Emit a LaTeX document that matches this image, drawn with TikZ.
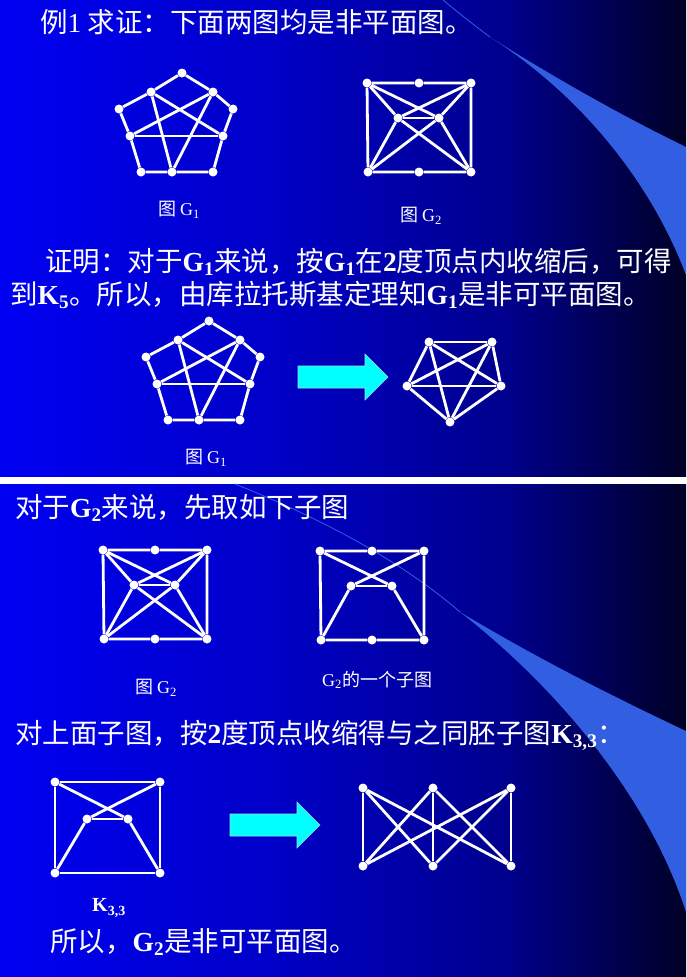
\documentclass[tikz,border=0pt]{standalone}
\usepackage{fontspec}
\setmainfont{Liberation Serif}
\newfontfamily\cjk{Noto Sans CJK SC}
\usetikzlibrary{positioning}

\pgfdeclarehorizontalshading{slidebg}{100bp}{rgb(0bp)=(0,0,0.95); rgb(25bp)=(0,0,0.95); rgb(45bp)=(0,0,0.78); rgb(62bp)=(0,0,0.55); rgb(75bp)=(0,0,0.15); rgb(100bp)=(0,0,0.15)}
\definecolor{swoosh}{RGB}{50,95,225}
\definecolor{arrowcyan}{RGB}{0,255,255}

\newcommand\lat[1]{{\rmfamily\bfseries #1}}
\newcommand\lowidx[1]{\textsubscript{#1}}

% G1: pentagon with subdivided sides
\newcommand\graphGone[1]{%
  \node[vx] (#1t)  at (182,73)  {};
  \node[vx] (#1ul) at (151,92)  {};
  \node[vx] (#1ur) at (213,92)  {};
  \node[vx] (#1lo) at (119,109) {};
  \node[vx] (#1ro) at (233,109) {};
  \node[vx] (#1ml) at (130,136) {};
  \node[vx] (#1mr) at (223,136) {};
  \node[vx] (#1bl) at (141,172) {};
  \node[vx] (#1bm) at (172,172) {};
  \node[vx] (#1br) at (213,172) {};
  \draw[gline] (#1ul) -- (#1t) -- (#1ur) -- (#1ro) -- (#1mr) -- (#1br)
    -- (#1bm) -- (#1bl) -- (#1ml) -- (#1lo) -- (#1ul);
  \draw[gline] (#1ml) -- (#1mr);
  \draw[gline] (#1ul) -- (#1bm) -- (#1ur);
  \draw[gline] (#1ul) -- (#1mr);
  \draw[gline] (#1ur) -- (#1ml);
}

% square with two inner vertices (#2 = extra edges)
\newcommand\graphSquare[2]{%
  \node[vx] (#1tl) at (367,83)  {};
  \node[vx] (#1tm) at (419,83)  {};
  \node[vx] (#1tr) at (471,83)  {};
  \node[vx] (#1il) at (398,118) {};
  \node[vx] (#1ir) at (439,118) {};
  \node[vx] (#1bl) at (368,172) {};
  \node[vx] (#1bm) at (419,172) {};
  \node[vx] (#1br) at (471,172) {};
  \draw[gline] (#1tl) -- (#1tm) -- (#1tr) -- (#1br) -- (#1bm) -- (#1bl) -- (#1tl);
  \draw[gline] (#1il) -- (#1ir);
  \draw[gline] (#1tl) -- (#1ir);
  \draw[gline] (#1tr) -- (#1il);
  \draw[gline] (#1bl) -- (#1il);
  \draw[gline] (#1br) -- (#1ir);
  #2
}
\newcommand\moreEdges[1]{%
  \draw[gline] (#1tl) -- (#1il);
  \draw[gline] (#1tr) -- (#1ir);
  \draw[gline] (#1bl) -- (#1ir);
  \draw[gline] (#1br) -- (#1il);
}

\newcommand\blockarrow{%
  \fill[bigarrow] (0,-11) -- (67,-11) -- (67,-23) -- (90,0) -- (67,23) -- (67,11) -- (0,11) -- cycle;
}

\begin{document}
\begin{tikzpicture}[x=1pt,y=-1pt]
  \tikzset{
    vx/.style={circle, fill=white, inner sep=0pt, minimum size=9pt},
    gline/.style={white, line width=2.8pt},
    txt/.style={anchor=west, text=white, inner sep=0pt, font=\fontsize{27.5}{32}\selectfont\cjk},
    figcap/.style={anchor=west, text=white, inner sep=0pt, font=\fontsize{18}{22}\selectfont\cjk},
    bigarrow/.style={fill=arrowcyan, draw=cyan!40, line width=0.6pt}
  }
  \useasboundingbox (0,0) rectangle (686,977);

  % backgrounds
  \fill[white] (0,0) rectangle (686,977);
  \shade[shading=slidebg] (0,0) rectangle (686,476);
  \shade[shading=slidebg] (0,484) rectangle (686,977);

  % swooshes
  \draw[swoosh, line width=0.8pt] (443,0) .. controls (460,14) and (475,26) .. (490,37);
  \fill[swoosh] (490,37) .. controls (580,95) and (650,180) .. (686,275)
    -- (686,147) .. controls (620,115) and (550,75) .. (490,37) -- cycle;
  \draw[swoosh, line width=0.8pt] (235,484) .. controls (320,518) and (400,560) .. (460,612);
  \fill[swoosh] (460,612) .. controls (560,690) and (650,800) .. (686,912)
    -- (686,731) .. controls (620,700) and (540,660) .. (460,612) -- cycle;

  % slide 1
  \node[txt] (title) at (40,22) {例{\rmfamily 1} 求证：下面两图均是非平面图。};

  \graphGone{ga}
  \node[figcap] (capa) at (158,210) {图 {\rmfamily G\lowidx{1}}};

  \graphSquare{gb}{\moreEdges{gb}}
  \node[figcap] (capb) at (400,216) {图 {\rmfamily G\lowidx{2}}};

  \node[txt] (proof1) at (45,262) {证明：对于\lat{G\lowidx{1}}来说，按\lat{G\lowidx{1}}在\lat{2}度顶点内收缩后，可得};
  \node[txt] (proof2) at (10,295) {到\lat{K\lowidx{5}}。所以，由库拉托斯基定理知\lat{G\lowidx{1}}是非可平面图。};

  \begin{scope}[shift={(27,248)}]
    \graphGone{gc}
  \end{scope}
  \node[figcap] (capc) at (185,458) {图 {\rmfamily G\lowidx{1}}};

  \begin{scope}[shift={(298,377)}]
    \blockarrow
  \end{scope}

  % K5
  \node[vx] (ka) at (429,342) {};
  \node[vx] (kb) at (492,342) {};
  \node[vx] (kc) at (407,386) {};
  \node[vx] (kd) at (501,386) {};
  \node[vx] (ke) at (450,422) {};
  \foreach \u/\v in {ka/kb,ka/kc,ka/kd,ka/ke,kb/kc,kb/kd,kb/ke,kc/kd,kc/ke,kd/ke}
    \draw[gline] (\u) -- (\v);

  % slide 2
  \node[txt] (intro) at (15,508) {对于\lat{G\lowidx{2}}来说，先取如下子图};

  \begin{scope}[shift={(-264,467)}]
    \graphSquare{gd}{\moreEdges{gd}}
  \end{scope}
  \node[figcap] (capd) at (135,688) {图 {\rmfamily G\lowidx{2}}};

  \begin{scope}[shift={(-47,468)}]
    \graphSquare{ge}{}
  \end{scope}
  \node[figcap] (cape) at (322,680) {{\rmfamily G\lowidx{2}}的一个子图};

  \node[txt] (contract) at (15,735) {对上面子图，按\lat{2}度顶点收缩得与之同胚子图\lat{K\lowidx{3,3}}：};

  % contracted subgraph
  \node[vx] (htl) at (55,782)  {};
  \node[vx] (htr) at (160,782) {};
  \node[vx] (hil) at (87,819)  {};
  \node[vx] (hir) at (128,819) {};
  \node[vx] (hbl) at (55,873)  {};
  \node[vx] (hbr) at (160,873) {};
  \draw[gline] (htl) -- (htr) -- (hbr) -- (hbl) -- (htl);
  \draw[gline] (hil) -- (hir);
  \draw[gline] (htl) -- (hir) -- (hbr);
  \draw[gline] (htr) -- (hil) -- (hbl);
  \node[anchor=west, text=white, inner sep=0pt, font=\fontsize{20}{24}\selectfont] (capf) at (92,908) {\lat{K\lowidx{3,3}}};

  \begin{scope}[shift={(230,825)}]
    \blockarrow
  \end{scope}

  % K3,3
  \foreach \i/\x in {1/363,2/433,3/511} {
    \node[vx] (up\i) at (\x,788) {};
    \node[vx] (dn\i) at (\x,866) {};
  }
  \foreach \i in {1,2,3}
    \foreach \j in {1,2,3}
      \draw[gline] (up\i) -- (dn\j);

  \node[txt] (concl) at (50,942) {所以，\lat{G\lowidx{2}}是非可平面图。};
\end{tikzpicture}
\end{document}
